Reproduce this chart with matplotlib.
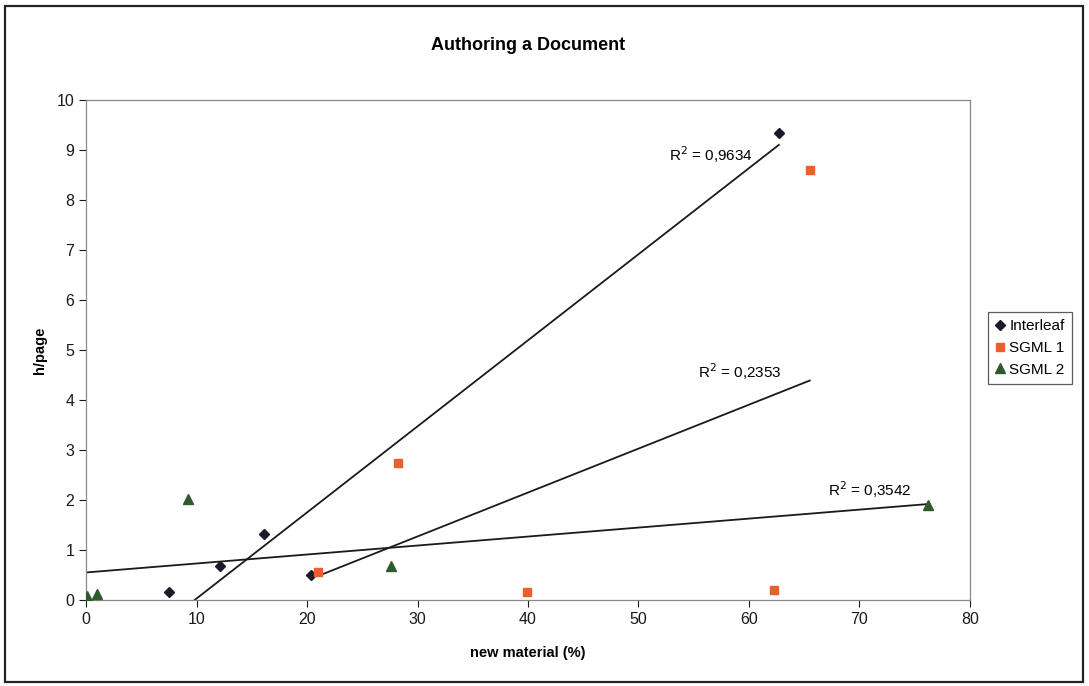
import matplotlib
matplotlib.use("Agg")
import matplotlib.pyplot as plt
import numpy as np
from matplotlib.patches import Rectangle

plt.rcParams["font.family"] = ["Liberation Sans", "DejaVu Sans"]

# values
interleaf_x = [7.5, 12.1, 16.1, 20.4, 62.7]
interleaf_y = [0.15, 0.67, 1.32, 0.50, 9.35]
sgml1_x = [21.0, 28.2, 39.9, 62.3, 65.5]
sgml1_y = [0.55, 2.73, 0.15, 0.20, 8.60]
sgml2_x = [0.1, 1.0, 9.2, 27.6, 76.2]
sgml2_y = [0.08, 0.12, 2.02, 0.68, 1.90]

r2_labels = ["R$^2$ = 0,9634", "R$^2$ = 0,2353", "R$^2$ = 0,3542"]
r2_pos = [(56.6, 8.9), (59.2, 4.56), (70.9, 2.2)]

fig = plt.figure(figsize=(10.89, 6.86), dpi=100)
ax = fig.add_axes([0.079, 0.1254, 0.8117, 0.7288])

series = [
    (interleaf_x, interleaf_y, "Interleaf", "D", "#1a1a2a", 5),
    (sgml1_x, sgml1_y, "SGML 1", "s", "#e8602c", 6),
    (sgml2_x, sgml2_y, "SGML 2", "^", "#2e5a2e", 7),
]

for x, y, name, marker, color, size in series:
    ax.plot(x, y, linestyle="none", marker=marker, color=color,
            markersize=size, label=name, zorder=3)

# linear trend lines across each series' x range
for x, y, name, marker, color, size in series:
    slope, icpt = np.polyfit(x, y, 1)
    xs = np.array([min(x), max(x)])
    if name == "SGML 2":
        xs[0] = 0
    ax.plot(xs, slope * xs + icpt, color="#1a1a1a", linewidth=1.3, zorder=2)

for label, (tx, ty) in zip(r2_labels, r2_pos):
    ax.text(tx, ty, label, fontsize=11, ha="center", va="center")

ax.set_xlim(0, 80)
ax.set_ylim(0, 10)
ax.set_xticks(range(0, 81, 10))
ax.set_yticks(range(0, 11))
ax.tick_params(direction="out", length=5, width=0.8, labelsize=11.5, colors="#1a1a1a")

for side in ["top", "right", "left", "bottom"]:
    ax.spines[side].set_color("#888888")
    ax.spines[side].set_linewidth(0.9)

ax.set_title("Authoring a Document", fontsize=13, fontweight="bold", pad=36)
ax.set_xlabel("new material (%)", fontsize=10.5, fontweight="bold", labelpad=14)
ax.set_ylabel("h/page", fontsize=10.5, fontweight="bold", labelpad=7)

leg = fig.legend(loc="center left", bbox_to_anchor=(0.9, 0.4927), fontsize=11,
                 frameon=True, fancybox=False, handlelength=0.6,
                 handletextpad=0.3, borderpad=0.5, labelspacing=0.5)
leg.get_frame().set_edgecolor("#333333")
leg.get_frame().set_linewidth(0.9)

fig.patches.append(Rectangle((5 / 1089, 4 / 686), 1078 / 1089, 676 / 686,
                             transform=fig.transFigure, fill=False,
                             edgecolor="#222222", linewidth=1.6))

fig.savefig("out.png", dpi=100)
